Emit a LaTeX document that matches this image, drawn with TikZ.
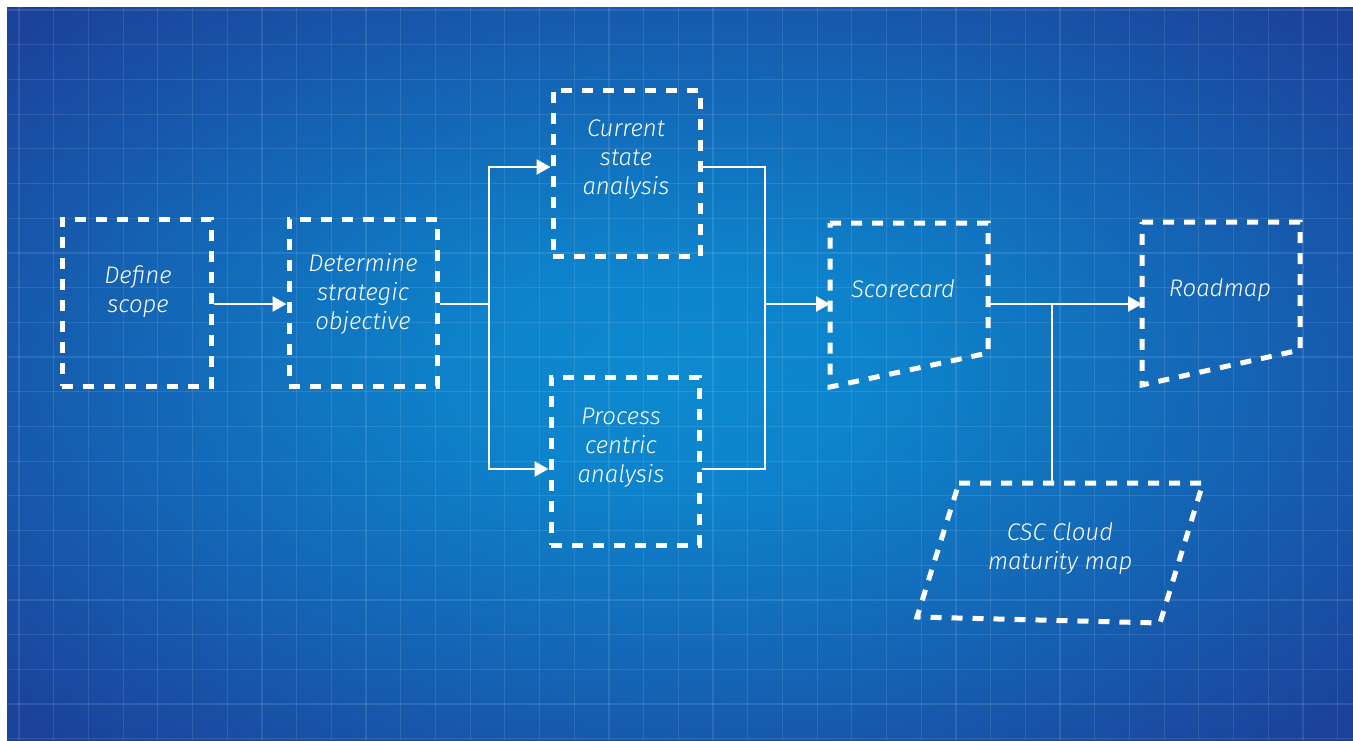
\documentclass[tikz,border=0pt]{standalone}
\usepackage{fontspec}
\newfontfamily\hand{Fira Sans}[UprightFont=* Light Italic]
\usetikzlibrary{arrows.meta}
\definecolor{bgin}{HTML}{0C8AD0}
\definecolor{bgmid}{HTML}{1466B6}
\definecolor{bgout}{HTML}{1B429B}
\pgfdeclareradialshading{bgshade}{\pgfpoint{0bp}{0bp}}{color(0bp)=(bgin); color(8bp)=(bgin!80!bgmid); color(20bp)=(bgmid); color(34bp)=(bgout); color(50bp)=(bgout)}
\tikzset{
  box/.style={draw=white, line width=5pt, dash pattern=on 11pt off 10pt},
  lbl/.style={text=white, font=\hand\fontsize{24}{29}\selectfont, align=center, inner sep=0pt},
  conn/.style={draw=white, line width=2.5pt},
  arr/.style={conn, -{Triangle[length=14pt,width=15pt]}},
  gridline/.style={draw=white, opacity=0.1, line width=1.2pt}
}
\begin{document}
\begin{tikzpicture}[x=1pt,y=-1pt]
\useasboundingbox (0,0) rectangle (1353,740);
\fill[white] (0,0) rectangle (1353,740);
\shade[shading=bgshade] (7,7) rectangle (1353,740);
\foreach \k in {0,...,38} \draw[gridline] ({19+34.7*\k},7) -- ({19+34.7*\k},740);
\foreach \k in {0,...,21} \draw[gridline] (7,{10+34.7*\k}) -- (1353,{10+34.7*\k});

% rectangular boxes
\node[box, minimum width=149pt, minimum height=167pt, inner sep=0pt] (scope) at (136.5,302.5) {};
\node[box, minimum width=148pt, minimum height=167pt, inner sep=0pt] (obj) at (363,302.5) {};
\node[box, minimum width=147pt, minimum height=166pt, inner sep=0pt] (cur) at (626.5,173) {};
\node[box, minimum width=148pt, minimum height=168pt, inner sep=0pt] (proc) at (625,461) {};

% skewed shapes
\coordinate (sc1) at (830,223); \coordinate (sc2) at (988,223);
\coordinate (sc3) at (988,353); \coordinate (sc4) at (830,387);
\draw[box] (sc1) -- (sc2) -- (sc3) -- (sc4) -- cycle;
\coordinate (rm1) at (1142,222); \coordinate (rm2) at (1300,222);
\coordinate (rm3) at (1300,350); \coordinate (rm4) at (1142,385);
\draw[box] (rm1) -- (rm2) -- (rm3) -- (rm4) -- cycle;
\coordinate (cm1) at (959,483); \coordinate (cm2) at (1203,483);
\coordinate (cm3) at (1160,623); \coordinate (cm4) at (917,617);
\draw[box] (cm1) -- (cm2) -- (cm3) -- (cm4) -- cycle;

% labels
\node[lbl] (tscope) at (138,292) {Define\\scope};
\node[lbl] (tobj) at (363,294) {Determine\\strategic\\objective};
\node[lbl] (tcur) at (626,160) {Current\\state\\analysis};
\node[lbl] (tproc) at (621,448) {Process\\centric\\analysis};
\node[lbl] (tsc) at (903,289) {Scorecard};
\node[lbl] (trm) at (1220,290) {Roadmap};
\node[lbl] (tcm) at (1060,549) {CSC Cloud\\maturity map};

% connectors
\coordinate (scin) at (830,304);
\coordinate (rmin) at (1142,304);
\coordinate (scout) at (988,304);
\coordinate (cmtop) at (1052,483);
\draw[arr] ([yshift=-1.5pt]scope.east) -- ([yshift=-1.5pt]obj.west);
\draw[conn] ([yshift=-1.5pt]obj.east) -- (489,304) coordinate (j1);
\draw[arr] (489,304) |- ([yshift=6pt]cur.west);
\draw[arr] (489,304) |- ([yshift=-8pt]proc.west);
\draw[conn] ([yshift=6pt]cur.east) -| (765,304);
\draw[conn] ([yshift=-8pt]proc.east) -| (765,304);
\draw[arr] (765,304) -- (scin);
\draw[arr] (scout) -- (rmin);
\draw[conn] (1052,304) -- (cmtop);
\end{tikzpicture}
\end{document}
